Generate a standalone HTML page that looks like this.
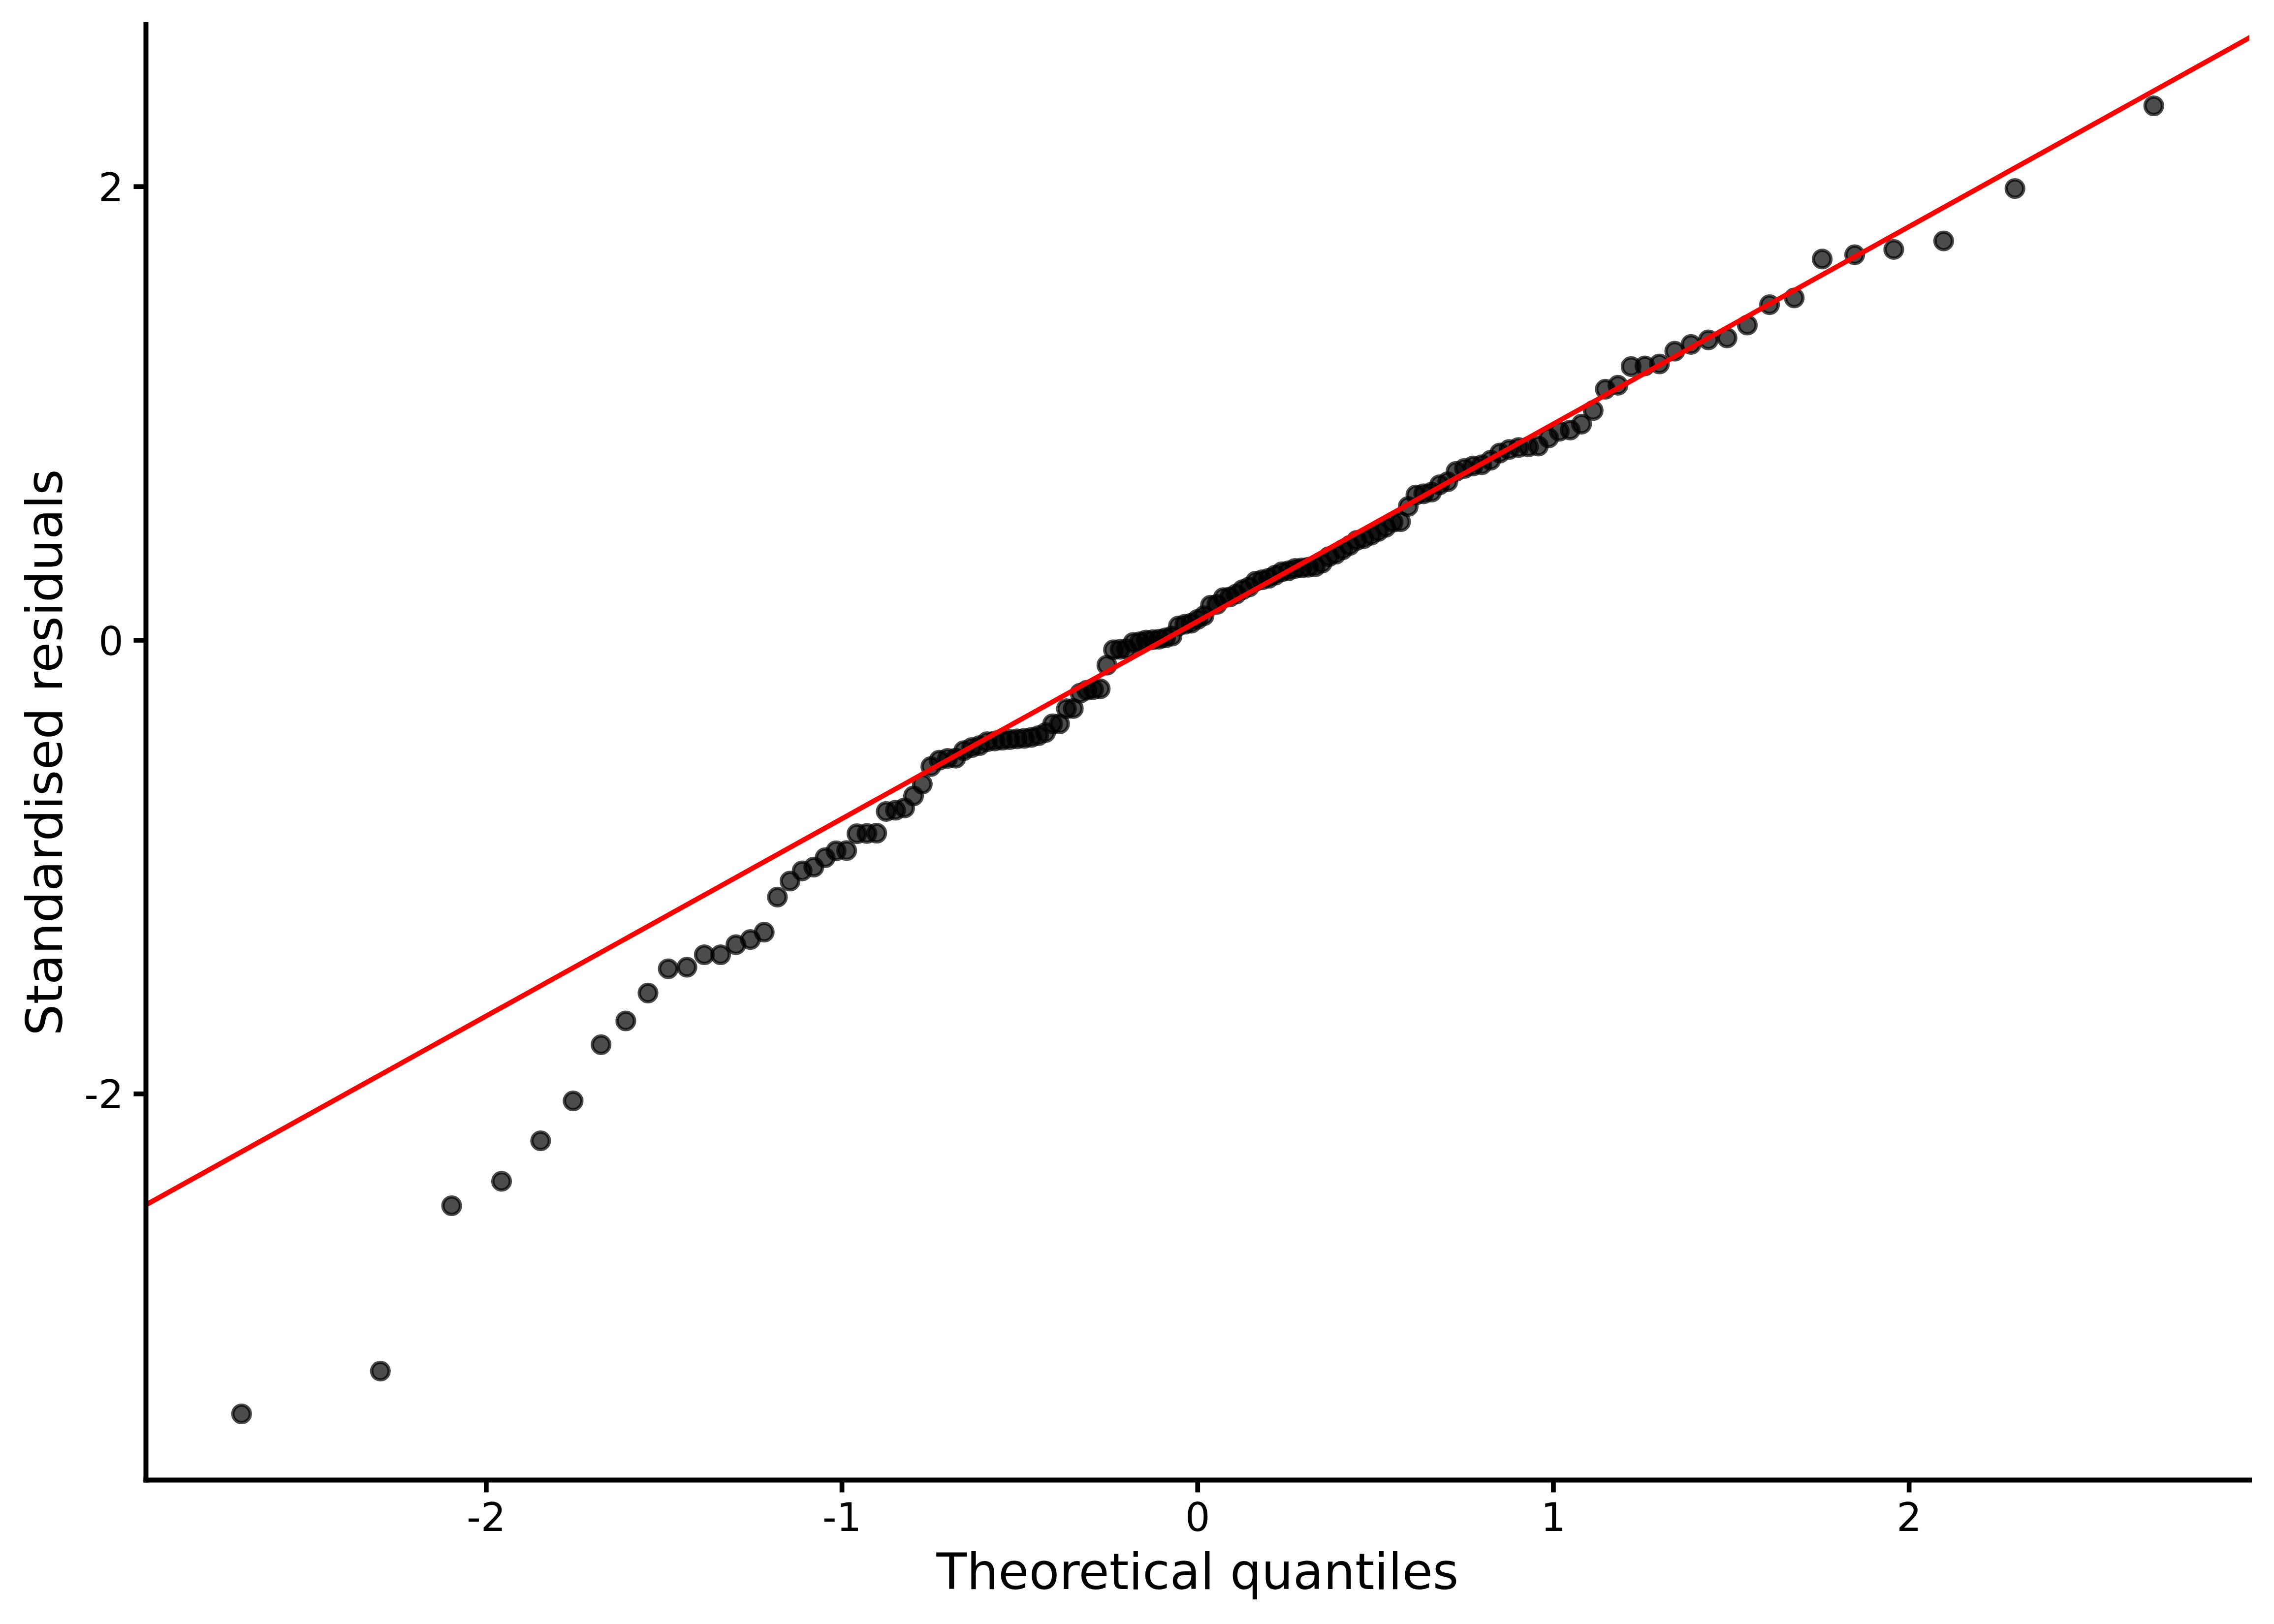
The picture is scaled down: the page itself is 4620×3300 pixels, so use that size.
<!DOCTYPE html>
<html lang="en"><head><meta charset="utf-8"><title>Normal Q-Q plot</title>
<style>
html,body{margin:0;padding:0;background:#fff;}
body{width:4620px;height:3300px;overflow:hidden;}
svg{display:block;}
text{font-family:"DejaVu Sans","Liberation Sans",sans-serif;fill:#000;}
.tick{font-size:80px;}
.title{font-size:101px;}
</style></head><body>
<svg width="4620" height="3300" viewBox="0 0 4620 3300">
<rect x="0" y="0" width="4620" height="3300" fill="#ffffff"/>
<defs><clipPath id="panel"><rect x="296.5" y="50" width="4273.5" height="2957.5"/></clipPath></defs>

<g clip-path="url(#panel)">
<g fill="#000" fill-opacity="0.7" stroke="#000" stroke-opacity="0.7" stroke-width="6.8">
<circle cx="490.8" cy="2873.0" r="17.7"/>
<circle cx="772.8" cy="2786.1" r="17.7"/>
<circle cx="917.6" cy="2450.0" r="17.7"/>
<circle cx="1019.0" cy="2400.4" r="17.7"/>
<circle cx="1098.4" cy="2318.1" r="17.7"/>
<circle cx="1164.4" cy="2237.1" r="17.7"/>
<circle cx="1221.2" cy="2122.8" r="17.7"/>
<circle cx="1271.4" cy="2074.5" r="17.7"/>
<circle cx="1316.5" cy="2017.8" r="17.7"/>
<circle cx="1357.7" cy="1968.5" r="17.7"/>
<circle cx="1395.6" cy="1965.3" r="17.7"/>
<circle cx="1430.9" cy="1940.0" r="17.7"/>
<circle cx="1464.0" cy="1940.0" r="17.7"/>
<circle cx="1495.1" cy="1919.7" r="17.7"/>
<circle cx="1524.6" cy="1909.1" r="17.7"/>
<circle cx="1552.6" cy="1894.1" r="17.7"/>
<circle cx="1579.4" cy="1822.8" r="17.7"/>
<circle cx="1605.0" cy="1790.4" r="17.7"/>
<circle cx="1629.7" cy="1769.6" r="17.7"/>
<circle cx="1653.4" cy="1761.9" r="17.7"/>
<circle cx="1676.4" cy="1742.9" r="17.7"/>
<circle cx="1698.6" cy="1728.9" r="17.7"/>
<circle cx="1720.1" cy="1728.4" r="17.7"/>
<circle cx="1741.0" cy="1694.1" r="17.7"/>
<circle cx="1761.3" cy="1693.6" r="17.7"/>
<circle cx="1781.2" cy="1693.0" r="17.7"/>
<circle cx="1800.5" cy="1648.8" r="17.7"/>
<circle cx="1819.4" cy="1646.4" r="17.7"/>
<circle cx="1837.9" cy="1641.7" r="17.7"/>
<circle cx="1856.0" cy="1617.3" r="17.7"/>
<circle cx="1873.8" cy="1593.3" r="17.7"/>
<circle cx="1891.2" cy="1557.6" r="17.7"/>
<circle cx="1908.3" cy="1544.5" r="17.7"/>
<circle cx="1925.1" cy="1541.0" r="17.7"/>
<circle cx="1941.7" cy="1540.6" r="17.7"/>
<circle cx="1958.0" cy="1525.3" r="17.7"/>
<circle cx="1974.1" cy="1519.0" r="17.7"/>
<circle cx="1989.9" cy="1515.0" r="17.7"/>
<circle cx="2005.5" cy="1507.2" r="17.7"/>
<circle cx="2021.0" cy="1505.6" r="17.7"/>
<circle cx="2036.2" cy="1504.0" r="17.7"/>
<circle cx="2051.3" cy="1502.8" r="17.7"/>
<circle cx="2066.2" cy="1501.3" r="17.7"/>
<circle cx="2080.9" cy="1500.3" r="17.7"/>
<circle cx="2095.5" cy="1498.3" r="17.7"/>
<circle cx="2110.0" cy="1494.8" r="17.7"/>
<circle cx="2124.3" cy="1488.6" r="17.7"/>
<circle cx="2138.6" cy="1470.8" r="17.7"/>
<circle cx="2152.7" cy="1470.8" r="17.7"/>
<circle cx="2166.7" cy="1440.2" r="17.7"/>
<circle cx="2180.6" cy="1439.7" r="17.7"/>
<circle cx="2194.4" cy="1408.5" r="17.7"/>
<circle cx="2208.1" cy="1402.5" r="17.7"/>
<circle cx="2221.7" cy="1401.0" r="17.7"/>
<circle cx="2235.3" cy="1399.6" r="17.7"/>
<circle cx="2248.8" cy="1351.6" r="17.7"/>
<circle cx="2262.2" cy="1320.4" r="17.7"/>
<circle cx="2275.6" cy="1319.3" r="17.7"/>
<circle cx="2288.9" cy="1318.6" r="17.7"/>
<circle cx="2302.2" cy="1305.5" r="17.7"/>
<circle cx="2315.4" cy="1304.2" r="17.7"/>
<circle cx="2328.6" cy="1300.5" r="17.7"/>
<circle cx="2341.8" cy="1299.9" r="17.7"/>
<circle cx="2354.9" cy="1298.8" r="17.7"/>
<circle cx="2368.0" cy="1296.0" r="17.7"/>
<circle cx="2381.1" cy="1292.7" r="17.7"/>
<circle cx="2394.1" cy="1272.2" r="17.7"/>
<circle cx="2407.2" cy="1268.5" r="17.7"/>
<circle cx="2420.2" cy="1266.3" r="17.7"/>
<circle cx="2433.2" cy="1258.5" r="17.7"/>
<circle cx="2446.3" cy="1251.1" r="17.7"/>
<circle cx="2459.3" cy="1229.8" r="17.7"/>
<circle cx="2472.4" cy="1228.0" r="17.7"/>
<circle cx="2485.4" cy="1214.3" r="17.7"/>
<circle cx="2498.5" cy="1213.0" r="17.7"/>
<circle cx="2511.6" cy="1207.0" r="17.7"/>
<circle cx="2524.7" cy="1198.0" r="17.7"/>
<circle cx="2537.9" cy="1192.5" r="17.7"/>
<circle cx="2551.1" cy="1181.0" r="17.7"/>
<circle cx="2564.3" cy="1178.1" r="17.7"/>
<circle cx="2577.6" cy="1175.0" r="17.7"/>
<circle cx="2590.9" cy="1168.5" r="17.7"/>
<circle cx="2604.3" cy="1161.8" r="17.7"/>
<circle cx="2617.7" cy="1159.8" r="17.7"/>
<circle cx="2631.2" cy="1155.0" r="17.7"/>
<circle cx="2644.8" cy="1154.0" r="17.7"/>
<circle cx="2658.4" cy="1152.6" r="17.7"/>
<circle cx="2672.1" cy="1151.5" r="17.7"/>
<circle cx="2685.9" cy="1144.4" r="17.7"/>
<circle cx="2699.8" cy="1131.0" r="17.7"/>
<circle cx="2713.8" cy="1126.0" r="17.7"/>
<circle cx="2727.9" cy="1117.0" r="17.7"/>
<circle cx="2742.2" cy="1108.3" r="17.7"/>
<circle cx="2756.5" cy="1098.0" r="17.7"/>
<circle cx="2771.0" cy="1094.3" r="17.7"/>
<circle cx="2785.6" cy="1087.7" r="17.7"/>
<circle cx="2800.3" cy="1079.9" r="17.7"/>
<circle cx="2815.2" cy="1071.5" r="17.7"/>
<circle cx="2830.3" cy="1061.0" r="17.7"/>
<circle cx="2845.5" cy="1060.2" r="17.7"/>
<circle cx="2861.0" cy="1029.2" r="17.7"/>
<circle cx="2876.6" cy="1005.8" r="17.7"/>
<circle cx="2892.4" cy="1003.3" r="17.7"/>
<circle cx="2908.5" cy="1000.0" r="17.7"/>
<circle cx="2924.8" cy="985.0" r="17.7"/>
<circle cx="2941.4" cy="978.9" r="17.7"/>
<circle cx="2958.2" cy="957.9" r="17.7"/>
<circle cx="2975.3" cy="951.8" r="17.7"/>
<circle cx="2992.7" cy="946.8" r="17.7"/>
<circle cx="3010.5" cy="944.4" r="17.7"/>
<circle cx="3028.6" cy="935.2" r="17.7"/>
<circle cx="3047.1" cy="920.5" r="17.7"/>
<circle cx="3066.0" cy="913.4" r="17.7"/>
<circle cx="3085.3" cy="909.3" r="17.7"/>
<circle cx="3105.2" cy="907.9" r="17.7"/>
<circle cx="3125.5" cy="906.3" r="17.7"/>
<circle cx="3146.4" cy="889.8" r="17.7"/>
<circle cx="3167.9" cy="876.4" r="17.7"/>
<circle cx="3190.1" cy="873.8" r="17.7"/>
<circle cx="3213.1" cy="861.8" r="17.7"/>
<circle cx="3236.8" cy="834.2" r="17.7"/>
<circle cx="3261.5" cy="790.8" r="17.7"/>
<circle cx="3287.1" cy="782.8" r="17.7"/>
<circle cx="3313.9" cy="744.9" r="17.7"/>
<circle cx="3341.9" cy="743.5" r="17.7"/>
<circle cx="3371.4" cy="739.5" r="17.7"/>
<circle cx="3402.5" cy="713.7" r="17.7"/>
<circle cx="3435.6" cy="699.8" r="17.7"/>
<circle cx="3470.9" cy="690.6" r="17.7"/>
<circle cx="3508.8" cy="686.6" r="17.7"/>
<circle cx="3550.0" cy="660.5" r="17.7"/>
<circle cx="3595.1" cy="619.1" r="17.7"/>
<circle cx="3645.3" cy="605.3" r="17.7"/>
<circle cx="3702.1" cy="526.4" r="17.7"/>
<circle cx="3768.1" cy="517.7" r="17.7"/>
<circle cx="3847.5" cy="506.9" r="17.7"/>
<circle cx="3948.9" cy="489.6" r="17.7"/>
<circle cx="4093.7" cy="383.1" r="17.7"/>
<circle cx="4375.7" cy="215.0" r="17.7"/>
</g>
<line x1="276.5" y1="2459.30" x2="4590.0" y2="65.70" stroke="#ff0000" stroke-width="10" stroke-linecap="butt"/>
</g>
<g stroke="#000" stroke-width="10" stroke-linecap="square" fill="none">
<line x1="296.5" y1="50" x2="296.5" y2="3007.5"/>
<line x1="296.5" y1="3007.5" x2="4570" y2="3007.5"/>
</g>
<g stroke="#000" stroke-width="9.7" stroke-linecap="butt">
<line x1="987.85" y1="3007.5" x2="987.85" y2="3032.5"/>
<line x1="1710.55" y1="3007.5" x2="1710.55" y2="3032.5"/>
<line x1="2433.25" y1="3007.5" x2="2433.25" y2="3032.5"/>
<line x1="3155.95" y1="3007.5" x2="3155.95" y2="3032.5"/>
<line x1="3878.65" y1="3007.5" x2="3878.65" y2="3032.5"/>
<line x1="271.5" y1="2222.80" x2="296.5" y2="2222.80"/>
<line x1="271.5" y1="1301.00" x2="296.5" y2="1301.00"/>
<line x1="271.5" y1="379.20" x2="296.5" y2="379.20"/>
</g>
<text class="tick" x="987.85" y="3111" text-anchor="middle">-2</text>
<text class="tick" x="1710.55" y="3111" text-anchor="middle">-1</text>
<text class="tick" x="2433.25" y="3111" text-anchor="middle">0</text>
<text class="tick" x="3155.95" y="3111" text-anchor="middle">1</text>
<text class="tick" x="3878.65" y="3111" text-anchor="middle">2</text>
<text class="tick" x="251" y="2252.30" text-anchor="end">-2</text>
<text class="tick" x="251" y="1330.50" text-anchor="end">0</text>
<text class="tick" x="251" y="408.70" text-anchor="end">2</text>
<text class="title" x="2433" y="3228.5" text-anchor="middle">Theoretical quantiles</text>
<text class="title" transform="translate(125.5,1529) rotate(-90)" text-anchor="middle">Standardised residuals</text>
</svg></body></html>
